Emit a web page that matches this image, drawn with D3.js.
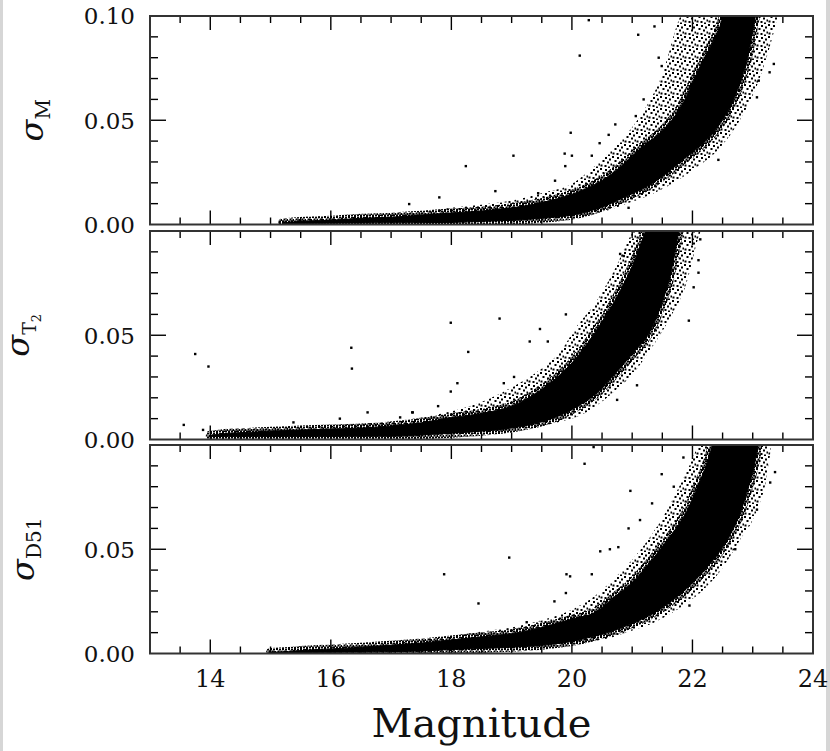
<!DOCTYPE html>
<html>
<head>
<meta charset="utf-8">
<script src="https://cdn.jsdelivr.net/npm/d3@7"></script>
<style>
body { margin: 0; background: #fff; }
svg text { font-family: "DejaVu Serif", serif; fill: #111; }
</style>
</head>
<body>
<svg id="chart" width="830" height="751"></svg>
<script>
// photometric errors vs magnitude, three filters (M, T2, DDO51)
// lo/hi = outer edge of the star sequence, cLo/cHi = its solid core,
// out = the stray stars, all read off the figure

var magM = [15.2, 15.5, 16, 16.5, 17, 17.5, 18, 18.5, 19, 19.5, 20, 20.3, 20.6, 20.9, 21.2, 21.5, 21.8, 22.1, 22.4, 22.7, 22.9, 23.1, 23.3, 23.5];
var hiM  = [0.0015, 0.0025, 0.003, 0.004, 0.005, 0.006, 0.008, 0.0095, 0.0115, 0.015, 0.0195, 0.026, 0.034, 0.043, 0.055, 0.072, 0.1, 0.11, 0.11, 0.11, 0.11, 0.11, 0.11, 0.11];
var cHiM = [0.0008, 0.0015, 0.002, 0.003, 0.0035, 0.0045, 0.0055, 0.0065, 0.008, 0.0105, 0.0145, 0.018, 0.023, 0.03, 0.038, 0.045, 0.056, 0.074, 0.091, 0.11, 0.11, 0.11, 0.11, 0.11];
var cLoM = [0.0005, 0.0005, 0.0006, 0.0007, 0.0008, 0.0009, 0.001, 0.0015, 0.002, 0.003, 0.0045, 0.0065, 0.0095, 0.0135, 0.0175, 0.023, 0.03, 0.037, 0.046, 0.061, 0.078, 0.105, 0.11, 0.11];
var loM  = [0.0003, 0.0003, 0.0004, 0.0005, 0.0006, 0.0006, 0.0007, 0.0012, 0.0018, 0.0025, 0.0035, 0.0047, 0.0068, 0.01, 0.013, 0.017, 0.022, 0.028, 0.035, 0.046, 0.056, 0.069, 0.087, 0.11];
var outMagM = [20.28, 20.13, 21.1, 21.37, 21.44, 21.49, 21.19, 20.72, 19.98, 21.06, 20.61, 20.46, 19.88, 20.0, 19.03, 18.24, 20.33, 19.89, 19.72, 18.73, 17.8, 19.44, 23.35, 23.28, 23.1, 23.07, 22.43, 20.94, 17.3, 15.21, 15.15];
var outSigM = [0.098, 0.081, 0.091, 0.095, 0.080, 0.076, 0.060, 0.048, 0.044, 0.052, 0.043, 0.039, 0.034, 0.033, 0.033, 0.028, 0.033, 0.028, 0.021, 0.016, 0.013, 0.015, 0.077, 0.073, 0.069, 0.061, 0.031, 0.008, 0.0098, 0.0013, 0.001];

var magT = [14.0, 14.3, 14.7, 15, 15.5, 16, 16.5, 17, 17.5, 18, 18.5, 19, 19.5, 19.8, 20.1, 20.4, 20.7, 21.0, 21.3, 21.6, 21.9, 22.1, 22.3];
var hiT  = [0.003, 0.0045, 0.005, 0.0055, 0.006, 0.0065, 0.0075, 0.0085, 0.0105, 0.0135, 0.018, 0.025, 0.034, 0.042, 0.055, 0.066, 0.081, 0.099, 0.11, 0.11, 0.11, 0.11, 0.11];
var cHiT = [0.002, 0.003, 0.0035, 0.004, 0.0045, 0.005, 0.0055, 0.0065, 0.008, 0.0105, 0.0125, 0.016, 0.024, 0.031, 0.04, 0.052, 0.066, 0.083, 0.104, 0.11, 0.11, 0.11, 0.11];
var cLoT = [0.0015, 0.0015, 0.0015, 0.0015, 0.0015, 0.0015, 0.0016, 0.0016, 0.0022, 0.003, 0.004, 0.0055, 0.0085, 0.0115, 0.016, 0.022, 0.031, 0.041, 0.052, 0.075, 0.11, 0.11, 0.11];
var loT  = [0.0012, 0.0012, 0.0012, 0.0012, 0.0012, 0.0012, 0.0013, 0.0013, 0.0018, 0.0025, 0.003, 0.0045, 0.0065, 0.0085, 0.011, 0.016, 0.023, 0.031, 0.043, 0.057, 0.075, 0.097, 0.11];
var outMagT = [13.75, 13.97, 16.34, 16.35, 13.56, 13.88, 16.61, 17.15, 17.35, 16.15, 15.38, 17.99, 18.8, 18.28, 18.1, 17.99, 17.36, 21.94, 22.1, 22.1, 22.02, 22.13, 19.47, 19.9, 19.3, 19.6, 18.87, 19.04, 17.78, 20.8, 20.86, 21.08, 20.75];
var outSigT = [0.041, 0.035, 0.044, 0.034, 0.007, 0.0046, 0.013, 0.0106, 0.013, 0.010, 0.0082, 0.056, 0.058, 0.042, 0.027, 0.023, 0.013, 0.057, 0.080, 0.086, 0.073, 0.096, 0.053, 0.060, 0.047, 0.047, 0.027, 0.030, 0.016, 0.089, 0.088, 0.026, 0.019];

var magD = [15.0, 15.3, 15.7, 16, 16.5, 17, 17.5, 18, 18.5, 19, 19.5, 20, 20.4, 20.7, 21.0, 21.3, 21.6, 21.9, 22.2, 22.5, 22.8, 23.0, 23.2, 23.4, 23.5];
var hiD  = [0.001, 0.0015, 0.0025, 0.003, 0.004, 0.005, 0.0065, 0.0083, 0.0105, 0.0125, 0.016, 0.021, 0.028, 0.036, 0.045, 0.056, 0.07, 0.087, 0.105, 0.11, 0.11, 0.11, 0.11, 0.11, 0.11];
var cHiD = [0.0005, 0.001, 0.0018, 0.0022, 0.003, 0.004, 0.005, 0.0065, 0.008, 0.0095, 0.0125, 0.0165, 0.02, 0.027, 0.034, 0.044, 0.055, 0.068, 0.088, 0.11, 0.11, 0.11, 0.11, 0.11, 0.11];
var cLoD = [0.0004, 0.0004, 0.0005, 0.0006, 0.0007, 0.0009, 0.0012, 0.0019, 0.0024, 0.003, 0.004, 0.0058, 0.0085, 0.011, 0.0145, 0.0185, 0.024, 0.031, 0.04, 0.051, 0.068, 0.087, 0.11, 0.11, 0.11];
var loD  = [0.0002, 0.0002, 0.0003, 0.0004, 0.0005, 0.0006, 0.0008, 0.0011, 0.0018, 0.0025, 0.003, 0.0042, 0.006, 0.008, 0.011, 0.014, 0.0185, 0.024, 0.031, 0.041, 0.055, 0.064, 0.08, 0.11, 0.11];
var outMagD = [20.21, 20.97, 18.96, 17.88, 18.45, 19.91, 19.97, 19.9, 19.71, 20.33, 20.47, 20.63, 20.77, 20.94, 21.13, 21.33, 21.49, 21.85, 21.69, 19.25, 23.29, 23.37, 23.07, 22.71, 21.95, 20.36, 14.99];
var outSigD = [0.091, 0.078, 0.046, 0.038, 0.024, 0.038, 0.037, 0.029, 0.025, 0.038, 0.049, 0.050, 0.051, 0.060, 0.064, 0.072, 0.086, 0.094, 0.080, 0.015, 0.082, 0.087, 0.069, 0.050, 0.023, 0.099, 0.001];

var xTicks = [14, 16, 18, 20, 22, 24];

var left = 150, right = 813, ph = 208.5;
var panels = [
	{top: 16,  mag: magM, hi: hiM, lo: loM, cHi: cHiM, cLo: cLoM, om: outMagM, os: outSigM, yLabels: [0, 0.05, 0.1], name: "M", sx: 43},
	{top: 231, mag: magT, hi: hiT, lo: loT, cHi: cHiT, cLo: cLoT, om: outMagT, os: outSigT, yLabels: [0, 0.05], name: "T", sx: 29},
	{top: 445, mag: magD, hi: hiD, lo: loD, cHi: cHiD, cLo: cLoD, om: outMagD, os: outSigD, yLabels: [0, 0.05], name: "D51", sx: 34}
];

var svg = d3.select("#chart");
var defs = svg.append("defs");

// stipples: a thin one for the outskirts, a thick one hugging the core
function stipple(id, size, dots){
	var pat = defs.append("pattern")
		.attr("id", id)
		.attr("patternUnits", "userSpaceOnUse")
		.attr("width", size)
		.attr("height", size);
	dots.forEach(function(s){
		pat.append("rect")
			.attr("x", s[0]).attr("y", s[1])
			.attr("width", 2).attr("height", 2)
			.attr("fill", "#000");
	});
}
stipple("sparse", 12, [[0, 0], [5, 1], [9, 2.5], [2.5, 4], [7, 5.5], [10.5, 7.5], [0.5, 8.5], [4.5, 9], [8, 10.5]]);
stipple("dense", 6, [[0, 0], [3, 0.5], [1.5, 2.5], [4.5, 3], [0, 4.5], [3, 4.5]]);

// grey strips at the sides of the scanned figure
svg.append("rect").attr("x", 0).attr("y", 0).attr("width", 3).attr("height", 751).attr("fill", "#d6d6d6");
svg.append("rect").attr("x", 826).attr("y", 0).attr("width", 4).attr("height", 751).attr("fill", "#d6d6d6");

var x = d3.scaleLinear().domain([13, 24]).range([left, right]);

panels.forEach(function(p, i){
	var y = d3.scaleLinear().domain([0, 0.1]).range([p.top + ph, p.top]);
	var g = svg.append("g");

	g.append("clipPath")
		.attr("id", "clip" + i)
		.append("rect")
			.attr("x", left)
			.attr("y", p.top)
			.attr("width", right - left)
			.attr("height", ph);

	var pts = p.mag.map(function(m, k){
		return {m: m, hi: p.hi[k], lo: p.lo[k], cHi: p.cHi[k], cLo: p.cLo[k]};
	});
	var outer = d3.area()
		.x(function(d){ return x(d.m); })
		.y0(function(d){ return y(d.lo); })
		.y1(function(d){ return y(d.hi); })
		.curve(d3.curveMonotoneX);
	var core = d3.area()
		.x(function(d){ return x(d.m); })
		.y0(function(d){ return y(d.cLo); })
		.y1(function(d){ return y(d.cHi); })
		.curve(d3.curveMonotoneX);

	var data = g.append("g").attr("clip-path", "url(#clip" + i + ")");
	data.append("path")
		.attr("d", outer(pts))
		.attr("fill", "url(#sparse)");
	data.append("path")
		.attr("d", core(pts))
		.attr("fill", "none")
		.attr("stroke", "url(#dense)")
		.attr("stroke-width", 9)
		.attr("stroke-linejoin", "round");
	data.append("path")
		.attr("d", core(pts))
		.attr("fill", "#000")
		.attr("stroke", "#000")
		.attr("stroke-width", 1);

	data.selectAll("rect.star")
		.data(p.om.map(function(m, k){ return [m, p.os[k]]; }))
		.enter().append("rect")
			.attr("class", "star")
			.attr("x", function(d){ return x(d[0]) - 1.2; })
			.attr("y", function(d){ return y(d[1]) - 1.2; })
			.attr("width", 2.4)
			.attr("height", 2.4)
			.attr("fill", "#000");

	// ticks on all four sides, pointing inward
	d3.range(13.5, 24, 0.5).forEach(function(t){
		var major = Math.abs(t / 2 - Math.round(t / 2)) < 1e-6;
		var len = major ? 14 : 7;
		g.append("line").attr("x1", x(t)).attr("x2", x(t))
			.attr("y1", p.top + ph).attr("y2", p.top + ph - len)
			.attr("stroke", "#000").attr("stroke-width", 1.4);
		g.append("line").attr("x1", x(t)).attr("x2", x(t))
			.attr("y1", p.top).attr("y2", p.top + len)
			.attr("stroke", "#000").attr("stroke-width", 1.4);
	});
	d3.range(0.01, 0.1, 0.01).forEach(function(t){
		var major = Math.abs(t - 0.05) < 1e-6;
		var len = major ? 16 : 8;
		g.append("line").attr("x1", left).attr("x2", left + len)
			.attr("y1", y(t)).attr("y2", y(t))
			.attr("stroke", "#000").attr("stroke-width", 1.4);
		g.append("line").attr("x1", right).attr("x2", right - len)
			.attr("y1", y(t)).attr("y2", y(t))
			.attr("stroke", "#000").attr("stroke-width", 1.4);
	});

	g.append("rect")
		.attr("x", left)
		.attr("y", p.top)
		.attr("width", right - left)
		.attr("height", ph)
		.attr("fill", "none")
		.attr("stroke", "#333")
		.attr("stroke-width", 2);

	p.yLabels.forEach(function(v){
		g.append("text")
			.attr("x", 135)
			.attr("y", y(v))
			.attr("dy", "0.36em")
			.attr("text-anchor", "end")
			.attr("font-size", 23)
			.text(d3.format(".2f")(v));
	});

	// sigma label with subscript
	var cy = p.top + ph / 2;
	var lab = g.append("text")
		.attr("transform", "translate(" + p.sx + "," + cy + ") rotate(-90)")
		.attr("text-anchor", "middle");
	lab.append("tspan")
		.attr("font-size", 32)
		.attr("font-style", "italic")
		.text("σ");
	if (p.name == "T"){
		lab.append("tspan").attr("font-size", 19).attr("dy", 7).text("T");
		lab.append("tspan").attr("font-size", 13).attr("dy", 5).text("2");
	}
	else{
		lab.append("tspan").attr("font-size", 20).attr("dy", 7).text(p.name);
	}

	if (i == 2){
		xTicks.forEach(function(t){
			g.append("text")
				.attr("x", x(t))
				.attr("y", p.top + ph + 33)
				.attr("text-anchor", "middle")
				.attr("font-size", 24)
				.text(t);
		});
	}
});

svg.append("text")
	.attr("x", (left + right) / 2)
	.attr("y", 737)
	.attr("text-anchor", "middle")
	.attr("font-size", 40)
	.text("Magnitude");
</script>
</body>
</html>
